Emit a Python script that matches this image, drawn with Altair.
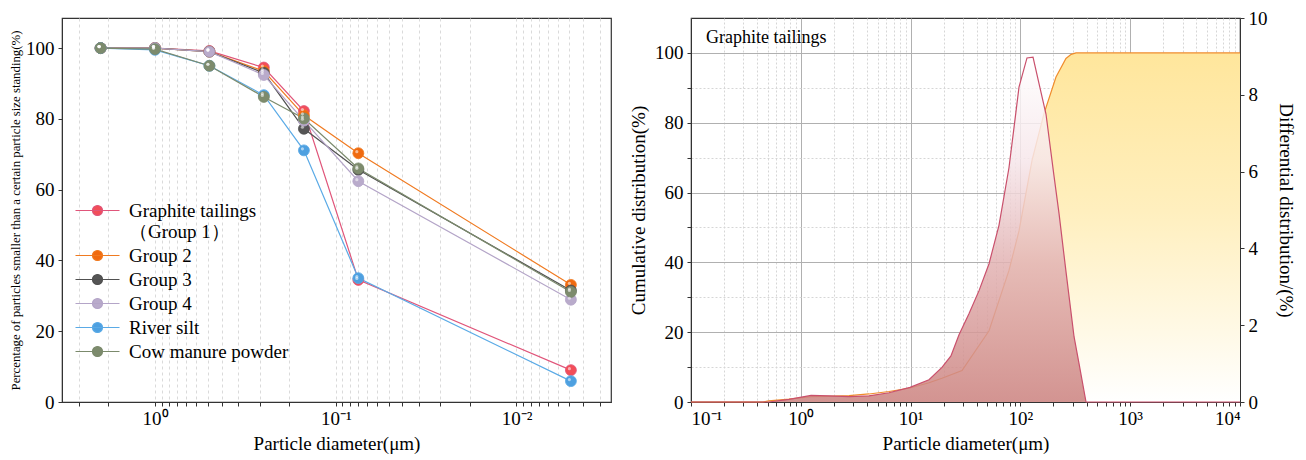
import altair as alt
import pandas as pd

FONT = "Liberation Serif"

# ---------------- left panel data ----------------
sizes = [2, 1, 0.5, 0.25, 0.15, 0.075, 0.005]
series = ["Graphite tailings（Group 1）", "Group 2", "Group 3", "Group 4", "River silt", "Cow manure powder"]
graphite = [100, 100, 99.2, 94.5, 82.2, 34.5, 9.0]
group2 = [100, 100, 99.0, 93.5, 81.0, 70.3, 33.1]
group3 = [100, 100, 99.0, 93.0, 77.2, 65.6, 31.5]
group4 = [100, 100, 99.0, 92.4, 79.5, 62.4, 28.9]
river = [100, 99.5, 95.0, 86.7, 71.1, 35.0, 5.9]
cow = [100, 99.7, 95.0, 86.2, 80.1, 66.0, 31.1]
line_colors = ["#E0557A", "#F07A20", "#505050", "#B4A5C8", "#5AAAE6", "#7B8A6C"]
point_colors = ["#F24E58", "#F06A10", "#555555", "#B9ABCB", "#4EA0E0", "#7D8B6D"]

left_major = [0.01, 0.1, 1]
left_major_labels = ["10⁻²", "10⁻¹", "10⁰"]
left_minor = [b + k * 9 * b / 11 for b in [0.001, 0.01, 0.1, 1] for k in range(1, 11)]
left_minor = [v for v in left_minor if 0.003 <= v <= 3.27]

# ---------------- right panel data ----------------
diam_diff = [0.1, 0.51, 0.78, 1.24, 1.81, 2.75, 4.18, 6.36, 9.88, 14.7, 19.3, 23.3, 27.6, 34.0,
             42.0, 51.8, 63.8, 78.7, 87.5, 97.1, 114.8, 130.3, 147.6, 171, 202, 225, 260, 308, 342, 396, 10000]
diff_vals = [0, 0, 0.07, 0.17, 0.16, 0.14, 0.16, 0.24, 0.38, 0.58, 0.9, 1.2, 1.75, 2.3,
             2.9, 3.6, 4.6, 6.1, 7.15, 8.2, 8.96, 8.98, 8.3, 7.5, 5.9, 4.9, 3.4, 1.7, 1.0, 0, 0]
diam_cum = [0.1, 0.45, 0.51, 0.78, 1.24, 1.81, 2.75, 4.18, 6.36, 9.88, 14.7, 19.3, 29.4, 51.8,
            78.7, 97.1, 127.6, 164, 211, 260, 290, 321, 10000]
cum_vals = [0, 0, 0.3, 0.8, 1.5, 1.6, 1.8, 2.3, 3.0, 4.0, 5.5, 6.8, 9.0, 20.4,
            37.7, 49.0, 69.2, 82.6, 93.1, 98.4, 99.6, 100, 100]

right_major = [0.1, 1, 10, 100, 1000, 10000]
right_major_labels = ["10⁻¹", "10⁰", "10¹", "10²", "10³", "10⁴"]
right_minor = [k * m for m in [0.1, 1, 10, 100, 1000] for k in range(2, 10)]
cum_ticks = [0, 10, 20, 30, 40, 50, 60, 70, 80, 90, 100]
diff_ticks = [0, 2, 4, 6, 8, 10]

# ---------------- build tables ----------------
rows = []
for name, vals in zip(series, [graphite, group2, group3, group4, river, cow]):
    for s, v in zip(sizes, vals):
        rows.append({"series": name, "size": s, "pct": v})
left_df = pd.DataFrame(rows)
diff_df = pd.DataFrame({"d": diam_diff, "v": diff_vals})
cum_df = pd.DataFrame({"d": diam_cum, "v": cum_vals})


def label_expr(values, labels):
    expr = "''"
    for v, l in zip(reversed(values), reversed(labels)):
        expr = f"datum.value == {v} ? '{l}' : ({expr})"
    return expr


# ---------------- left chart ----------------
lx = alt.X(
    "size:Q",
    scale=alt.Scale(type="log", domain=[0.003, 3.27], reverse=True, nice=False),
    axis=alt.Axis(
        values=left_major + left_minor,
        labelExpr=label_expr(left_major, left_major_labels),
        grid=True, gridDash=[3, 3], gridColor="#dadada",
        tickSize=4, labelPadding=3, titlePadding=6,
        title="Particle diameter(μm)",
    ),
)
ly = alt.Y(
    "pct:Q",
    scale=alt.Scale(domain=[0, 108.5], nice=False),
    axis=alt.Axis(values=[0, 20, 40, 60, 80, 100], grid=False, tickSize=4, labelPadding=4,
                  titlePadding=3, titleFontSize=12.8,
                  title="Percentage of particles smaller than a certain particle size standing(%)"),
)

legend = alt.Legend(
    title=None, orient="none", legendX=26, legendY=183,
    symbolType="M-4.4,0H4.4M1,0A1,1,0,1,1,-1,0A1,1,0,1,1,1,0Z",
    symbolSize=100, symbolStrokeWidth=1.2, labelOffset=22,
    labelFont=FONT, labelFontSize=19, rowPadding=4,
    labelExpr="datum.label == 'Graphite tailings（Group 1）' ? ['Graphite tailings', '\u00a0\u00a0（Group 1）'] : datum.label",
)

stroke_enc = alt.Stroke("series:N", scale=alt.Scale(domain=series, range=line_colors), legend=legend)
fill_enc = alt.Fill("series:N", scale=alt.Scale(domain=series, range=point_colors), legend=legend)

lines = alt.Chart(left_df).mark_line(strokeWidth=1.2).encode(x=lx, y=ly, stroke=stroke_enc)
points = alt.Chart(left_df).mark_point(filled=True, size=120, opacity=1, strokeWidth=0.8).encode(
    x=lx, y=ly, fill=fill_enc, stroke=stroke_enc)
shine = alt.Chart(left_df).mark_point(filled=True, size=10, color="white", opacity=0.55,
                                      xOffset=-1.5, yOffset=-1.5).encode(x=lx, y=ly)

left = alt.layer(lines, points, shine).properties(width=549, height=384)

# ---------------- right chart ----------------
maj_log = "abs(log(datum.value)/LN10 - round(log(datum.value)/LN10)) < 0.001"
rx = alt.X(
    "d:Q",
    scale=alt.Scale(type="log", domain=[0.1, 10000], nice=False),
    axis=alt.Axis(
        values=right_major + right_minor,
        labelExpr=label_expr(right_major, right_major_labels),
        grid=True,
        gridColor={"condition": {"test": maj_log, "value": "#b0b0b0"}, "value": "#d6d6d6"},
        gridDash={"condition": {"test": maj_log, "value": []}, "value": [2, 2]},
        tickSize=4, labelPadding=3, titlePadding=6,
        title="Particle diameter(μm)",
    ),
)
maj20 = "datum.value % 20 == 0"
ry_cum = alt.Y(
    "v:Q",
    scale=alt.Scale(domain=[0, 110], nice=False),
    axis=alt.Axis(
        orient="left", values=cum_ticks,
        labelExpr="datum.value % 20 == 0 ? datum.label : ''",
        grid=True,
        gridColor={"condition": {"test": maj20, "value": "#b0b0b0"}, "value": "#d6d6d6"},
        gridDash={"condition": {"test": maj20, "value": []}, "value": [2, 2]},
        tickSize=4, labelPadding=4, titlePadding=6,
        title="Cumulative distribution(%)",
    ),
)
ry_diff = alt.Y(
    "v:Q",
    scale=alt.Scale(domain=[0, 10], nice=False),
    axis=alt.Axis(orient="right", values=diff_ticks, grid=False, tickSize=4, labelPadding=4,
                  titlePadding=8, title="Differential distribution/(%)"),
)

yellow = alt.Gradient(
    gradient="linear", x1=0, x2=0, y1=0, y2=1,
    stops=[alt.GradientStop(color="#FFE69C", offset=0),
           alt.GradientStop(color="#FFEFBE", offset=0.45),
           alt.GradientStop(color="#FFF9E6", offset=0.8),
           alt.GradientStop(color="#FFFFFF", offset=1)],
)
rose = alt.Gradient(
    gradient="linear", x1=0, x2=0, y1=0, y2=1,
    stops=[alt.GradientStop(color="#FFFFFF", offset=0),
           alt.GradientStop(color="#F6E6EA", offset=0.3),
           alt.GradientStop(color="#E2B2B2", offset=0.6),
           alt.GradientStop(color="#CB817E", offset=1)],
)

cum_area = alt.Chart(cum_df).mark_area(color=yellow).encode(x=rx, y=ry_cum)
cum_line = alt.Chart(cum_df).mark_line(color="#F08C2C", strokeWidth=1.2).encode(x=rx, y=ry_cum)
label = alt.Chart(pd.DataFrame({"t": ["Graphite tailings"]})).mark_text(
    align="left", baseline="middle", font=FONT, fontSize=18, color="black"
).encode(x=alt.value(15), y=alt.value(20), text="t:N")
diff_area = alt.Chart(diff_df).mark_area(color=rose, opacity=0.85).encode(x=rx, y=ry_diff)
diff_line = alt.Chart(diff_df).mark_line(color="#C9506C", strokeWidth=1.2).encode(x=rx, y=ry_diff)

right = alt.layer(
    alt.layer(cum_area, cum_line, label),
    alt.layer(diff_area, diff_line),
).resolve_scale(y="independent").properties(width=549, height=384)

chart = alt.hconcat(left, right, spacing=16).properties(
    padding={"left": 0, "top": 0, "right": 0, "bottom": 0}
).configure_axis(
    labelFont=FONT, titleFont=FONT, labelFontSize=19, titleFontSize=19,
    titleFontWeight="normal", labelColor="black", titleColor="black",
    domainColor="#333333", tickColor="#333333",
).configure_view(stroke="#333333", strokeWidth=1.2)

chart.save("out.html", embed_options={"renderer": "svg", "actions": False})
